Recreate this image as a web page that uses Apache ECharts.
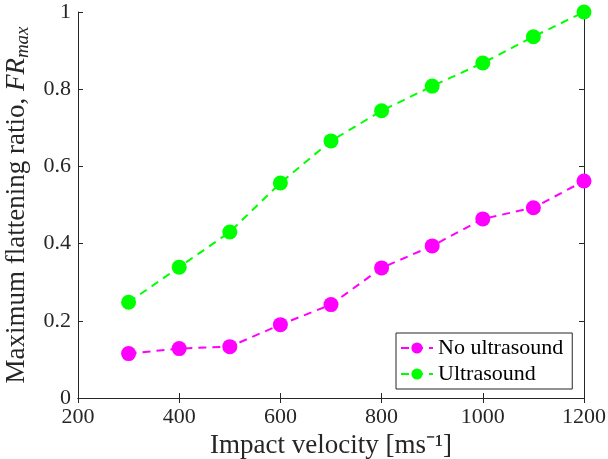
<!DOCTYPE html>
<html><head><meta charset="utf-8">
<script src="https://cdn.jsdelivr.net/npm/echarts@6/dist/echarts.min.js"></script>
<style>html,body{margin:0;padding:0;background:#fff}#c{width:608px;height:459px}</style>
</head><body><div id="c"></div>
<script>
const velocities = [300, 400, 500, 600, 700, 800, 900, 1000, 1100, 1200];
const noUltrasound = [0.115, 0.128, 0.133, 0.190, 0.242, 0.337, 0.394, 0.464, 0.493, 0.562];
const ultrasound = [0.248, 0.339, 0.430, 0.557, 0.666, 0.744, 0.808, 0.868, 0.936, 1.000];
const xTicks = [200, 400, 600, 800, 1000, 1200];
const yTicks = [0, 0.2, 0.4, 0.6, 0.8, 1];

const font = 'Liberation Serif';
const pair = (xs, ys) => xs.map((x, i) => [x, ys[i]]);
const chart = echarts.init(document.getElementById('c'));
const axisLine = { show: true, lineStyle: { color: '#262626', width: 1 } };
const tick = { show: true, inside: true, length: 5, lineStyle: { color: '#262626' } };
chart.setOption({
  animation: false,
  backgroundColor: '#fff',
  grid: { left: 78, right: 24, top: 12, bottom: 61, containLabel: false, outerBoundsMode: 'none' },
  legend: {
    data: ['No ultrasound', 'Ultrasound'],
    orient: 'vertical', left: 396, top: 333,
    backgroundColor: '#fff', borderColor: '#262626', borderWidth: 1,
    padding: [4, 9, 4, 4], itemGap: 4, itemWidth: 32, itemHeight: 14,
    textStyle: { fontFamily: font, fontSize: 22, color: '#000' }
  },
  xAxis: [{
    type: 'value', min: 200, max: 1200, interval: 200,
    axisLine, axisTick: tick, splitLine: { show: false },
    axisLabel: { fontFamily: font, fontSize: 22, color: '#262626', margin: 8,
      formatter: v => xTicks.includes(v) ? String(v) : '' },
    name: 'Impact velocity [ms⁻¹]', nameLocation: 'middle', nameGap: 31,
    nameTextStyle: { fontFamily: font, fontSize: 27, color: '#262626' }
  }, {
    type: 'value', position: 'top', min: 200, max: 1200, interval: 200,
    axisLine, axisTick: tick, axisLabel: { show: false }, splitLine: { show: false }
  }],
  yAxis: [{
    type: 'value', min: 0, max: 1, interval: 0.2,
    axisLine, axisTick: tick, splitLine: { show: false },
    axisLabel: { fontFamily: font, fontSize: 22, color: '#262626', margin: 7,
      formatter: v => { const t = yTicks.find(y => Math.abs(y - v) < 1e-9); return t === undefined ? '' : String(t); } },
    name: 'Maximum flattening ratio, {it|FR}{sub|max}', nameLocation: 'middle', nameGap: 43, nameRotate: 90,
    nameTextStyle: { fontFamily: font, fontSize: 27, color: '#262626',
      rich: {
        it: { fontFamily: font, fontStyle: 'italic', fontSize: 27, color: '#262626' },
        sub: { fontFamily: font, fontStyle: 'italic', fontSize: 19, color: '#262626', padding: [12, 0, 0, 0] }
      } }
  }, {
    type: 'value', position: 'right', min: 0, max: 1, interval: 0.2,
    axisLine, axisTick: tick, axisLabel: { show: false }, splitLine: { show: false }
  }],
  series: [{
    name: 'No ultrasound', type: 'line', data: pair(velocities, noUltrasound),
    symbol: 'circle', symbolSize: 15,
    itemStyle: { color: '#ff00ff' },
    lineStyle: { color: '#ff00ff', width: 2, type: [8, 6] }
  }, {
    name: 'Ultrasound', type: 'line', data: pair(velocities, ultrasound),
    symbol: 'circle', symbolSize: 15,
    itemStyle: { color: '#00ff00' },
    lineStyle: { color: '#00ff00', width: 2, type: [8, 6] }
  }]
});
</script></body></html>
